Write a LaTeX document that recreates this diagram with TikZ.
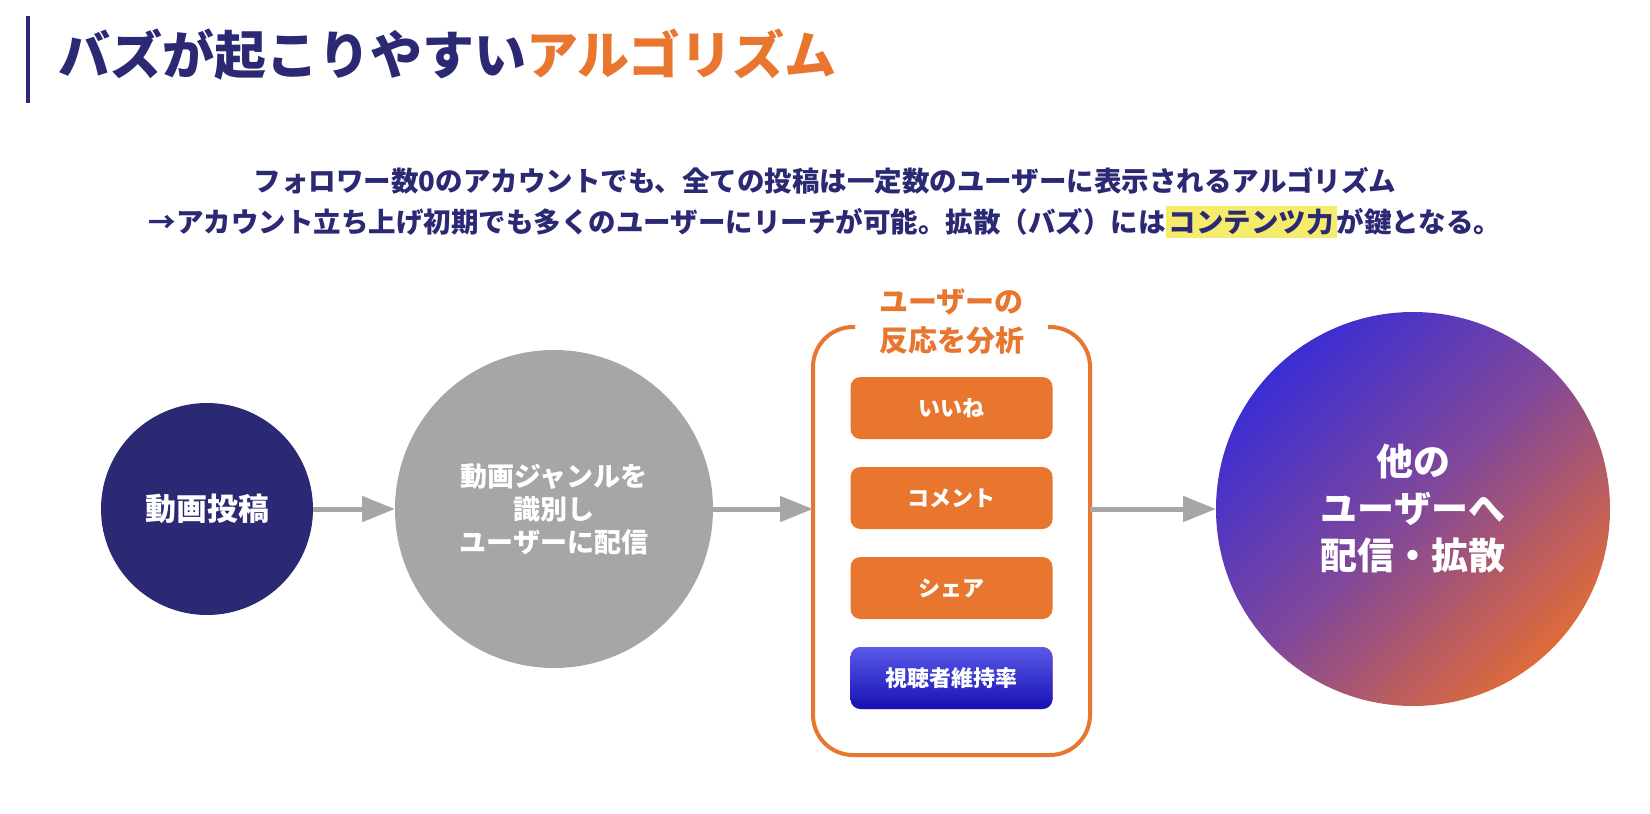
\documentclass[tikz,border=0pt]{standalone}
\usepackage{fontspec}
\setmainfont{Noto Sans CJK JP}
\usepackage{xcolor}
\usepackage{tikz}
\usetikzlibrary{arrows.meta,positioning,calc}

\definecolor{navy}{HTML}{2B2973}
\definecolor{accent}{HTML}{E8762F}
\definecolor{flowgray}{HTML}{A6A6A6}
\definecolor{marker}{HTML}{F5EC6B}
\definecolor{keepblue}{HTML}{5A5AE8}
\definecolor{keepdark}{HTML}{1710B4}
\definecolor{spreadblue}{HTML}{3B2DD4}
\definecolor{spreadmid}{HTML}{80489A}
\definecolor{spreadorange}{HTML}{DE6B3A}

\begin{document}
\begin{tikzpicture}[
    x=1pt, y=-1pt,
    stage/.style={circle, inner sep=0pt, outer sep=0pt, align=center, text=white},
    item/.style={rectangle, rounded corners=10pt, minimum width=202pt, minimum height=62pt,
                inner sep=0pt, outer sep=0pt, fill=accent, text=white,
                font=\fontsize{22}{26}\selectfont\bfseries},
    reactframe/.style={draw=accent, line width=4pt, rounded corners=40pt},
    arr/.style={draw=flowgray, line width=5pt, -{Triangle[length=33pt, width=25pt]}}
]
\fill[white] (0,0) rectangle (1650,814);
\useasboundingbox (0,0) rectangle (1650,814);

\draw[navy, line width=4pt] (28,16) -- (28,103);
\node[anchor=west, inner sep=0pt, text=navy, font=\fontsize{52}{60}\selectfont\bfseries] (title) at (58,55)
    {バズが起こりやすい\textcolor{accent}{アルゴリズム}};
\node[align=center, text=navy, font=\fontsize{27.5}{41}\selectfont\bfseries] (lead) at (825,203)
    {フォロワー数0のアカウントでも、全ての投稿は一定数のユーザーに表示されるアルゴリズム\\
     →アカウント立ち上げ初期でも多くのユーザーにリーチが可能。拡散（バズ）には{\setlength{\fboxsep}{3pt}\colorbox{marker}{コンテンツ力}}が鍵となる。};

\node[stage, fill=navy, minimum size=212pt, font=\fontsize{31}{36}\selectfont\bfseries] (post) at (207,509) {動画投稿};
\node[stage, fill=flowgray, minimum size=318pt, right=82pt of post, font=\fontsize{27}{33}\selectfont\bfseries] (genre)
    {動画ジャンルを\\識別し\\ユーザーに配信};
\node[minimum width=277pt, minimum height=428pt, inner sep=0pt, outer sep=0pt, right=100pt of genre, yshift=-32pt] (react) {};
\node[stage, minimum size=394pt, top color=spreadblue, bottom color=spreadorange, middle color=spreadmid, shading angle=45,
      right=126pt of react, yshift=32pt, font=\fontsize{37}{47}\selectfont\bfseries] (spread)
    {他の\\ユーザーへ\\配信・拡散};

\draw[reactframe] ($(react.north west)+(42,0)$) -- (react.north west) -- (react.south west)
    -- (react.south east) -- (react.north east) -- ($(react.north east)+(-42,0)$);
\node[align=center, inner sep=0pt, text=accent, font=\fontsize{29}{39}\selectfont\bfseries] (reacttitle)
    at ($(react.north)+(0,-5)$) {ユーザーの\\反応を分析};
\node[item, below=50pt of react.north] (like) {いいね};
\node[item, below=28pt of like] (comment) {コメント};
\node[item, below=28pt of comment] (share) {シェア};
\node[item, below=28pt of share, top color=keepblue, bottom color=keepdark] (keep) {視聴者維持率};

\draw[arr] (post) -- (genre);
\draw[arr] (genre) -- (genre -| react.west);
\draw[arr] (react.east |- spread) -- (spread);
\end{tikzpicture}
\end{document}
